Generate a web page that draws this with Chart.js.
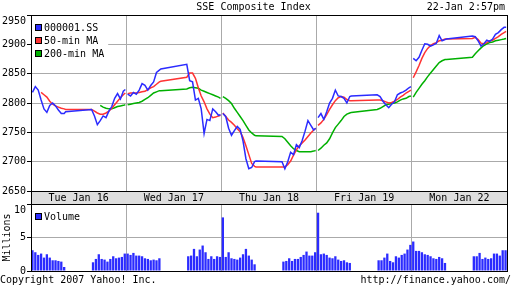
<!DOCTYPE html>
<html lang="en">
<head>
<meta charset="UTF-8">
<title>SSE Composite Index</title>
<script src="https://cdn.jsdelivr.net/npm/chart.js"></script>
<style>
  html, body { margin: 0; padding: 0; background: #fff; }
  #wrap {
    position: relative;
    width: 512px;
    height: 288px;
    overflow: hidden;
    font: 10px/12px "DejaVu Sans Mono", monospace;
    color: #000;
  }
  #priceChart { position: absolute; left: 0; top: 0; }
  #volChart { position: absolute; left: 0; top: 204px; }
  .note { position: absolute; white-space: pre; }
</style>
</head>
<body>
<div id="wrap">
  <canvas id="priceChart" width="512" height="204"></canvas>
  <canvas id="volChart" width="512" height="84"></canvas>
  <div class="note" style="right:7px; top:1px">22-Jan 2:57pm</div>
  <div class="note" style="left:0; top:274px">Copyright 2007 Yahoo! Inc.</div>
  <div class="note" style="right:1px; top:274px">http://finance.yahoo.com/</div>
</div>
<script>
  const dayLabels = ["Tue Jan 16", "Wed Jan 17", "Thu Jan 18", "Fri Jan 19", "Mon Jan 22"];

  // sample times for the lines (same for every day)
  const times = ["09:35", "09:45", "09:55", "10:05", "10:15", "10:25", "10:35", "10:45", "10:55", "11:05", "11:15", "11:25", "11:30",
                 "13:00", "13:10", "13:20", "13:30", "13:40", "13:50", "14:00", "14:10", "14:20", "14:30", "14:40", "14:50", "14:57"];

  // bar times for volume
  const volTimes = ["09:35", "09:45", "09:55", "10:05", "10:15", "10:25", "10:35", "10:45", "10:55", "11:05", "11:15", "11:25",
                    "13:05", "13:15", "13:25", "13:35", "13:45", "13:55", "14:05", "14:15", "14:25", "14:35", "14:45", "14:55"];

  const price = [
    2818, 2828, 2822, 2805, 2790, 2784, 2796, 2800, 2795, 2788, 2782, 2782, 2785, 2789, 2778, 2763, 2770, 2778, 2775, 2786, 2794, 2808, 2816, 2807, 2820, 2823,
    2815, 2812, 2818, 2815, 2822, 2833, 2830, 2822, 2830, 2836, 2852, 2856, 2858, 2866, 2838, 2836, 2805, 2808, 2790, 2748, 2772, 2770, 2790, 2785, 2779, 2780,
    2782, 2777, 2757, 2745, 2753, 2760, 2755, 2735, 2705, 2688, 2690, 2700, 2701, 2700, 2688, 2700, 2716, 2712, 2729, 2724, 2736, 2752, 2770, 2762, 2754, 2757,
    2775, 2782, 2772, 2785, 2800, 2808, 2822, 2812, 2811, 2808, 2800, 2811, 2812, 2814, 2811, 2803, 2797, 2792, 2798, 2802, 2814, 2817, 2819, 2822, 2826, 2828,
    2876, 2872, 2878, 2890, 2901, 2900, 2897, 2899, 2902, 2915, 2906, 2908, 2909, 2914, 2913, 2906, 2897, 2901, 2907, 2905, 2909, 2917, 2920, 2925, 2929, 2929
  ];

  const ma50 = [
    null, null, null, 2818, 2814, 2810, 2803, 2798, 2795, 2793, 2791, 2790, 2789, 2789, 2786, 2783, 2781, 2781, 2783, 2786, 2791, 2797, 2803, 2809, 2814, 2817,
    2816, 2817, 2817, 2817, 2818, 2819, 2820, 2823, 2826, 2828, 2832, 2836, 2837, 2844, 2851, 2851, 2842, 2826, 2812, 2802, 2790, 2781, 2775, 2776, 2778, 2779,
    2783, 2777, 2771, 2767, 2762, 2756, 2751, 2741, 2727, 2712, 2697, 2692, 2691, 2691, 2691, 2695, 2701, 2711, 2720, 2727, 2732, 2737, 2743, 2749, 2754, 2757,
    2762, 2766, 2772, 2780, 2789, 2797, 2804, 2809, 2811, 2810, 2806, 2804, 2804, 2805, 2805, 2804, 2802, 2800, 2801, 2803, 2806, 2810, 2813, 2817, 2820, 2822,
    2843, 2853, 2864, 2876, 2886, 2893, 2898, 2901, 2903, 2906, 2907, 2909, 2909, 2910, 2912, 2908, 2902, 2901, 2903, 2906, 2907, 2910, 2913, 2917, 2920, 2922
  ];

  const ma200 = [
    null, null, null, null, null, null, null, null, null, null, null, null, null, null, null, null, 2796, 2793, 2791, 2790, 2790, 2792, 2794, 2795, 2796, 2797,
    2797, 2798, 2799, 2800, 2801, 2803, 2806, 2809, 2813, 2817, 2819, 2821, 2821, 2824, 2826, 2827, 2826, 2825, 2822, 2820, 2818, 2816, 2814, 2812, 2810, 2808,
    2811, 2808, 2804, 2799, 2791, 2784, 2777, 2770, 2762, 2754, 2749, 2745, 2744, 2743, 2739, 2733, 2727, 2722, 2719, 2717, 2717, 2717, 2717, 2717, 2718, 2719,
    2719, 2723, 2728, 2732, 2739, 2749, 2758, 2764, 2770, 2777, 2781, 2783, 2784, 2789, 2791, 2794, 2797, 2798, 2799, 2800, 2802, 2805, 2807, 2808, 2811, 2812,
    2810, 2818, 2825, 2832, 2838, 2845, 2851, 2857, 2863, 2869, 2872, 2874, 2874, 2878, 2884, 2889, 2894, 2898, 2901, 2903, 2904, 2906, 2907, 2908, 2909, 2910
  ];

  // millions of shares
  const volume = [
    3.1, 2.8, 2.4, 2.6, 2.0, 2.5, 2.0, 1.6, 1.6, 1.5, 1.4, 0.6, 1.3, 1.8, 2.5, 1.8, 1.7, 1.4, 1.8, 2.2, 1.9, 2.0, 2.1, 2.6,
    2.6, 2.4, 2.7, 2.3, 2.3, 2.2, 1.9, 1.8, 1.6, 1.7, 1.6, 1.9, 2.2, 2.3, 3.3, 2.2, 3.2, 3.8, 2.8, 1.8, 2.2, 1.8, 2.2, 2.1,
    8.0, 2.1, 2.8, 1.9, 1.8, 1.7, 2.0, 2.5, 3.3, 2.3, 1.7, 1.0, 1.4, 1.5, 1.9, 1.5, 1.8, 1.8, 2.1, 2.4, 2.9, 2.3, 2.3, 2.8,
    8.7, 2.5, 2.6, 2.4, 2.0, 1.9, 2.2, 1.7, 1.5, 1.6, 1.3, 1.2, 1.6, 1.6, 2.0, 2.6, 1.5, 1.3, 2.2, 2.0, 2.4, 2.6, 3.2, 3.9,
    4.4, 3.0, 3.0, 2.8, 2.5, 2.4, 2.2, 1.9, 1.8, 2.1, 1.9, 1.2, 2.2, 2.2, 2.7, 1.8, 2.0, 1.8, 1.9, 2.6, 2.6, 2.3, 3.1, 3.1
  ];

  const priceTicks = [2650, 2700, 2750, 2800, 2850, 2900, 2950];
  const volTicks = [0, 5, 10];

  const BLUE = "#2b2bff", RED = "#ff3333", GREEN = "#00b000", GRID = "#aaaaaa";

  Chart.defaults.font.family = '"DejaVu Sans Mono", monospace';
  Chart.defaults.font.size = 10;
  Chart.defaults.color = "#000";

  // 9:30 .. 15:00 = 330 minutes fill one day slot on the axis
  function toX(day, t) {
    const [h, m] = t.split(":").map(Number);
    return day + (h * 60 + m - 570) / 330;
  }

  // lines break between days (null point at the day edge)
  function buildPoints(values, tlist, breakDays) {
    const pts = [];
    dayLabels.forEach((_, d) => {
      tlist.forEach((t, i) => pts.push({ x: toX(d, t), y: values[d * tlist.length + i] }));
      if (breakDays) pts.push({ x: d + 1, y: null });
    });
    return pts;
  }

  function fixY(scale) {
    scale.width = 31;
    scale.paddingTop = 0;
    scale.paddingBottom = 0;
  }

  function fixX(h) {
    return function (scale) {
      scale.height = h;
      scale.paddingLeft = 0;
      scale.paddingRight = 0;
    };
  }

  function dayTicks(scale) {
    const t = [];
    for (let v = 0; v <= 5; v += 0.5) t.push({ value: v });
    scale.ticks = t;
  }

  // top label sits just under the top border, like the original
  function topLabelDown(v, i, ticks) {
    return i === ticks.length - 1 ? ["", String(v)] : String(v);
  }

  // legend drawn inside the plot, top-left, on white
  const boxLegend = {
    id: "boxLegend",
    afterDatasetsDraw(chart) {
      const ctx = chart.ctx;
      const a = chart.chartArea;
      const sets = chart.data.datasets;
      ctx.save();
      ctx.font = '10px "DejaVu Sans Mono", monospace';
      let w = 0;
      sets.forEach(s => { w = Math.max(w, ctx.measureText(s.label).width); });
      ctx.fillStyle = "#fff";
      ctx.fillRect(a.left + 1, a.top + 1, w + 16, sets.length * 13 + 6);
      ctx.textBaseline = "middle";
      sets.forEach((s, i) => {
        const y = a.top + 13 + i * 13;
        ctx.fillStyle = s.backgroundColor || s.borderColor;
        ctx.fillRect(a.left + 4, y - 3, 6, 6);
        ctx.strokeStyle = "#000";
        ctx.lineWidth = 1;
        ctx.strokeRect(a.left + 4.5, y - 3.5, 6, 6);
        ctx.fillStyle = "#000";
        ctx.fillText(s.label, a.left + 13, y + 0.5);
      });
      ctx.restore();
    }
  };

  const frame = {
    id: "frame",
    beforeDraw(chart, args, opts) {
      if (!opts.band) return;
      const a = chart.chartArea;
      const ctx = chart.ctx;
      ctx.save();
      ctx.fillStyle = "#dedede";
      ctx.fillRect(a.left, a.bottom, a.right - a.left, chart.height - a.bottom);
      ctx.restore();
    },
    afterDraw(chart, args, opts) {
      const a = chart.chartArea;
      const ctx = chart.ctx;
      ctx.save();
      ctx.strokeStyle = "#000";
      ctx.lineWidth = 1;
      ctx.strokeRect(a.left + 0.5, a.top + 0.5, a.right - a.left, a.bottom - a.top);
      if (opts.band) {
        ctx.beginPath();
        ctx.moveTo(a.left + 0.5, a.bottom);
        ctx.lineTo(a.left + 0.5, chart.height);
        ctx.moveTo(a.right + 0.5, a.bottom);
        ctx.lineTo(a.right + 0.5, chart.height);
        ctx.stroke();
      }
      ctx.restore();
    }
  };

  const dayGridColor = c => Number.isInteger(c.tick.value) ? GRID : "rgba(0,0,0,0)";

  new Chart(document.getElementById("priceChart"), {
    type: "line",
    data: {
      datasets: [
        { label: "000001.SS", data: buildPoints(price, times, true), borderColor: BLUE, backgroundColor: BLUE },
        { label: "50-min MA", data: buildPoints(ma50, times, true), borderColor: RED, backgroundColor: RED },
        { label: "200-min MA", data: buildPoints(ma200, times, true), borderColor: GREEN, backgroundColor: GREEN }
      ]
    },
    options: {
      responsive: false,
      animation: false,
      spanGaps: false,
      elements: {
        line: { borderWidth: 1.5, tension: 0 },
        point: { radius: 0, hoverRadius: 0 }
      },
      layout: { padding: { top: 0, right: 5, left: 0, bottom: 0 } },
      plugins: {
        legend: { display: false },
        tooltip: { enabled: false },
        title: {
          display: true,
          text: "SSE Composite Index",
          color: "#000",
          font: { size: 10, weight: "normal" },
          padding: { top: 1, bottom: 2 }
        },
        frame: { band: true }
      },
      scales: {
        x: {
          type: "linear",
          min: 0,
          max: 5,
          afterBuildTicks: dayTicks,
          afterFit: fixX(13),
          grid: { color: dayGridColor, drawTicks: false },
          border: { color: "#000" },
          ticks: {
            autoSkip: false,
            maxRotation: 0,
            minRotation: 0,
            padding: 1,
            callback: v => (v % 1 === 0.5 ? dayLabels[Math.floor(v)] : "")
          }
        },
        y: {
          min: 2650,
          max: 2950,
          afterBuildTicks: s => { s.ticks = priceTicks.map(v => ({ value: v })); },
          afterFit: fixY,
          grid: { color: GRID, tickColor: "#000", tickLength: 4 },
          border: { color: "#000" },
          ticks: { padding: 1, callback: topLabelDown }
        }
      }
    },
    plugins: [boxLegend, frame]
  });

  new Chart(document.getElementById("volChart"), {
    type: "bar",
    data: {
      datasets: [
        {
          label: "Volume",
          data: buildPoints(volume, volTimes, false),
          backgroundColor: BLUE,
          borderWidth: 0,
          barPercentage: 0.8,
          categoryPercentage: 1
        }
      ]
    },
    options: {
      responsive: false,
      animation: false,
      layout: { padding: { top: 0, right: 5, left: 0, bottom: 0 } },
      plugins: {
        legend: { display: false },
        tooltip: { enabled: false },
        frame: { band: false }
      },
      scales: {
        x: {
          type: "linear",
          min: 0,
          max: 5,
          offset: false,
          afterBuildTicks: dayTicks,
          afterFit: fixX(17),
          grid: { color: dayGridColor, drawTicks: false, offset: false },
          border: { color: "#000" },
          ticks: { display: false }
        },
        y: {
          min: 0,
          max: 10,
          afterBuildTicks: s => { s.ticks = volTicks.map(v => ({ value: v })); },
          afterFit: fixY,
          grid: { color: GRID, tickColor: "#000", tickLength: 4 },
          border: { color: "#000" },
          ticks: { padding: 1, callback: topLabelDown },
          title: {
            display: true,
            text: "Millions",
            color: "#000",
            font: { size: 10 },
            padding: { top: 1, bottom: 0 }
          }
        }
      }
    },
    plugins: [boxLegend, frame]
  });
</script>
</body>
</html>
